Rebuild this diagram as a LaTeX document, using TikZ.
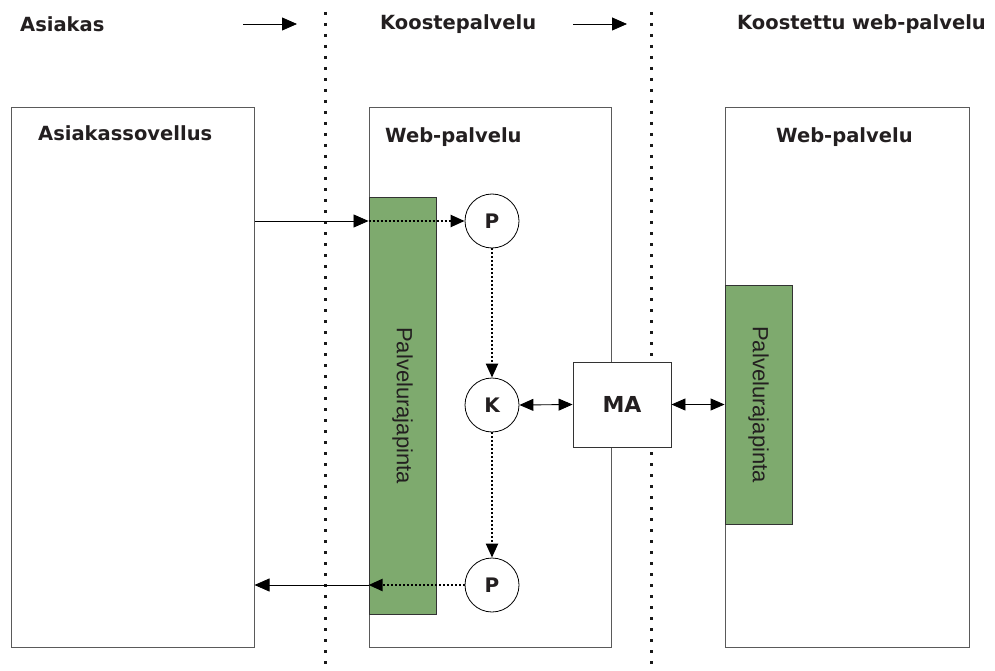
\documentclass[tikz,border=0pt]{standalone}
\usepackage{fontspec}
\setmainfont{DejaVu Sans}
\newfontfamily\apifont{Liberation Sans}
\usetikzlibrary{arrows.meta}
\definecolor{apigreen}{RGB}{126,170,110}
\definecolor{boxgray}{RGB}{90,90,90}
\definecolor{txt}{RGB}{35,31,32}
\tikzset{
  hdr/.style={font=\bfseries\fontsize{19.5}{22}\selectfont, anchor=west, inner sep=0pt, text=txt},
  lbl/.style={font=\bfseries\fontsize{19.5}{22}\selectfont, anchor=west, inner sep=0pt, text=txt},
  bigbox/.style={draw=boxgray, line width=1pt, fill=white, minimum width=#1, minimum height=539pt, inner sep=0pt},
  api/.style={draw=black!80, line width=0.9pt, fill=apigreen, inner sep=0pt, minimum width=67pt},
  apitext/.style={font=\apifont\fontsize{22}{25}\selectfont, rotate=-90, text=txt},
  circ/.style={draw=black, line width=0.8pt, circle, minimum size=54pt, inner sep=0pt, fill=white, font=\bfseries\fontsize{20}{23}\selectfont, text=txt},
  mabox/.style={draw=black!80, line width=0.9pt, fill=white, minimum width=98pt, minimum height=85pt, inner sep=0pt, font=\bfseries\fontsize{22}{25}\selectfont, text=txt},
  sep/.style={line width=3pt, dash pattern=on 3pt off 8pt, black!90},
  solidarr/.style={line width=0.8pt, -{Triangle[length=15pt,width=13pt]}},
  dotarr/.style={line width=2.2pt, dash pattern=on 2pt off 2pt, -{Triangle[length=14pt,width=12pt]}},
  dblarr/.style={line width=0.9pt, {Triangle[length=14pt,width=12pt]}-{Triangle[length=14pt,width=12pt]}},
}
\begin{document}
\begin{tikzpicture}[x=1pt,y=-1pt]
\useasboundingbox (0,0) rectangle (995,671);
\fill[white] (0,0) rectangle (995,671);

% separators
\coordinate (s1t) at (325,12); \coordinate (s1b) at (325,671);
\coordinate (s2t) at (651,12); \coordinate (s2b) at (651,671);
\draw[sep] (s1t) -- (s1b);
\draw[sep] (s2t) -- (s2b);

% headers
\node[hdr] (h1) at (20,24) {Asiakas};
\node[hdr] (h2) at (380,24) {Koostepalvelu};
\node[hdr] (h3) at (737,24) {Koostettu web-palvelu};
\coordinate (a1s) at (243,24); \coordinate (a1e) at (297,24);
\coordinate (a2s) at (573,24); \coordinate (a2e) at (627,24);
\draw[solidarr] (a1s) -- (a1e);
\draw[solidarr] (a2s) -- (a2e);

% big boxes
\node[bigbox=243pt] (client) at (132.5,377.5) {};
\node[bigbox=242pt] (mid) at (490,377.5) {};
\node[bigbox=244pt] (right) at (847,377.5) {};
\node[lbl] (clientlbl) at (38,133) {Asiakassovellus};
\node[lbl] (midlbl) at (385,137) {Web-palvelu};
\node[lbl] (rightlbl) at (776,137) {Web-palvelu};

% api bars
\node[api, minimum height=417pt] (gm) at (402.5,405.5) {};
\node[apitext] at (gm.center) {Palvelurajapinta};
\node[api, minimum height=239pt] (gr) at (758.5,404.5) {};
\node[apitext] at (gr.center) {Palvelurajapinta};

% circles and MA
\node[circ] (p1) at (492,221) {P};
\node[circ] (k) at (492,405) {K};
\node[circ] (p2) at (492,585) {P};
\node[mabox] (ma) at (622,404.5) {MA};

% connectors
\coordinate (in1) at (gm.west |- p1);
\coordinate (out1) at (client.east |- p1);
\draw[solidarr] (out1) -- (in1);
\draw[dotarr] (in1) -- (p1.west);
\draw[dotarr] (p1.south) -- (k.north);
\draw[dotarr] (k.south) -- (p2.north);
\coordinate (in2) at (gm.west |- p2);
\coordinate (out2) at (client.east |- p2);
\draw[dotarr] (p2.west) -- (in2);
\draw[solidarr] (in2) -- (out2);
\draw[dblarr] (k.east) -- (ma.west);
\draw[dblarr] (ma.east) -- (gr.west |- ma.east);
\end{tikzpicture}
\end{document}
